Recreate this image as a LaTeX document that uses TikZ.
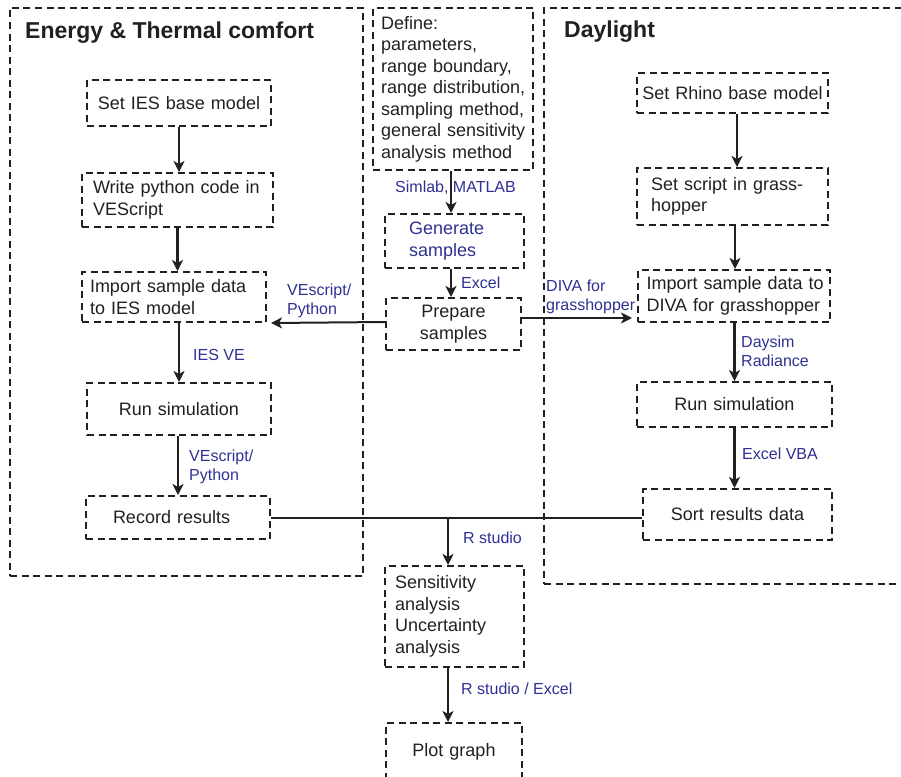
\documentclass[tikz,border=0pt]{standalone}
\usepackage{fontspec}
\setmainfont{Liberation Sans}
\usetikzlibrary{arrows.meta}
\definecolor{txt}{RGB}{35,31,32}
\definecolor{lbl}{RGB}{46,49,146}
\tikzset{
  bx/.style={draw=txt, line width=2pt, dash pattern=on 7pt off 4.5pt, text=txt,
    font=\fontsize{18}{21.5}\selectfont, inner ysep=0pt},
  grp/.style={draw=txt, line width=2pt, dash pattern=on 7pt off 4.5pt, inner sep=0pt},
  arr/.style={draw=txt, line width=2.4pt, -{Stealth[length=11pt,width=11pt,inset=3pt]}},
  harr/.style={draw=txt, line width=2pt, -{Stealth[length=11pt,width=11pt,inset=3pt]}},
  hline/.style={draw=txt, line width=2pt},
  lab/.style={text=lbl, font=\fontsize{16}{18.5}\selectfont, anchor=west, align=left, inner sep=0pt},
  ttl/.style={text=txt, font=\bfseries\fontsize{23}{27}\selectfont, anchor=west, inner sep=0pt}
}
\begin{document}
\begin{tikzpicture}[x=1pt,y=-1pt]
\useasboundingbox (0,0) rectangle (901,776);
\clip (0,0) rectangle (901,776);

% containers
\node[grp, minimum width=353pt, minimum height=568pt] (egrp) at (186.5,292) {};
\node[grp, minimum width=368pt, minimum height=576pt] (dgrp) at (728,296) {};
\node[ttl] (etitle) at (25,33) {Energy \& Thermal comfort};
\node[ttl] (dtitle) at (564,32) {Daylight};

% left column
\node[bx, text width=176pt, inner xsep=4pt, align=center, minimum height=46pt] (ies) at (179,103) {Set IES base model};
\node[bx, text width=169pt, inner xsep=11pt, align=left, minimum height=54pt] (py) at (177.5,200) {\mbox{Write python code in}\\VEScript};
\node[bx, text width=168pt, inner xsep=8pt, align=left, minimum height=50pt] (imp) at (174,297) {\mbox{Import sample data}\\\mbox{to IES model}};
\node[bx, text width=176pt, inner xsep=4pt, align=center, minimum height=52pt] (run1) at (179,409) {Run simulation};
\node[bx, text width=130pt, inner xsep=27pt, align=left, minimum height=43pt] (rec) at (178,517.5) {\mbox{Record results}};

% middle column
\node[bx, text width=144pt, inner xsep=8pt, align=left, minimum height=162pt] (def) at (453,89) {Define:\\\mbox{parameters,}\\\mbox{range boundary,}\\\mbox{range distribution,}\\\mbox{sampling method,}\\\mbox{general sensitivity}\\\mbox{analysis method}};
\node[bx, text width=91pt, inner xsep=24pt, align=left, minimum height=54pt, text=lbl] (gen) at (454.5,241) {Generate\\samples};
\node[bx, text width=127pt, inner xsep=4pt, align=center, minimum height=52pt] (prep) at (453.5,324) {Prepare\\samples};
\node[bx, text width=119pt, inner xsep=10pt, align=left, minimum height=101pt] (sens) at (454.5,616.5) {Sensitivity\\analysis\\Uncertainty\\analysis};
\node[bx, text width=128pt, inner xsep=4pt, align=center, minimum height=58pt] (plot) at (454,752) {Plot graph};

% right column
\node[bx, text width=183pt, inner xsep=4pt, align=center, minimum height=40pt] (rhino) at (732.5,93) {Set Rhino base model};
\node[bx, text width=163pt, inner xsep=14pt, align=left, minimum height=57pt] (gh) at (732.5,196.5) {\mbox{Set script in grass-}\\hopper};
\node[bx, text width=175pt, inner xsep=8.5pt, align=left, minimum height=52pt] (diva) at (734,296) {\mbox{Import sample data to}\\\mbox{DIVA for grasshopper}};
\node[bx, text width=187pt, inner xsep=4pt, align=center, minimum height=45pt] (run2) at (734.5,404.5) {Run simulation};
\node[bx, text width=181pt, inner xsep=4pt, align=center, minimum height=51pt] (sort) at (737.5,514.5) {Sort results data};

% left arrows
\draw[arr] (ies.south) -- (ies.south |- py.north);
\draw[arr] (py.south) -- (py.south |- imp.north);
\draw[arr] (run1.north |- imp.south) -- (run1.north);
\draw[arr] (rec.north |- run1.south) -- (rec.north);

% middle arrows
\draw[arr] ([xshift=-2pt]def.south) -- ([xshift=-2pt]def.south |- gen.north);
\draw[arr] ([xshift=-3.5pt]gen.south) -- ([xshift=-3.5pt]gen.south |- prep.north);
\draw[harr] ([yshift=2pt]prep.west) -- ([xshift=4pt]imp.south east);
\draw[harr, shorten >=5pt] ([yshift=6pt]prep.east) -- ([yshift=6pt]prep.east -| diva.west);

% right arrows
\draw[arr] ([xshift=4.5pt]rhino.south) -- ([xshift=4.5pt]rhino.south |- gh.north);
\draw[arr] ([xshift=2.5pt]gh.south) -- ([xshift=2.5pt]gh.south |- diva.north);
\draw[arr] (run2.north |- diva.south) -- (run2.north);
\draw[arr] (run2.south) -- (run2.south |- sort.north);

% results merge
\draw[hline] (rec.east) -- (rec.east -| sort.west);
\coordinate (jn) at (448,517.5);
\draw[arr] (jn) -- (jn |- sens.north);
\draw[arr] (jn |- sens.south) -- (jn |- plot.north);

% labels
\node[lab] (l1) at (395,188) {Simlab, MATLAB};
\node[lab] (l2) at (461,283) {Excel};
\node[lab] (l3) at (287,301) {VEscript/\\Python};
\node[lab] (l4) at (193,355) {IES VE};
\node[lab] (l5) at (189,467) {VEscript/\\Python};
\node[lab] (l6) at (546,297) {DIVA for\\grasshopper};
\node[lab] (l7) at (741,351.5) {Daysim\\Radiance};
\node[lab] (l8) at (742,454) {Excel VBA};
\node[lab] (l9) at (463,538) {R studio};
\node[lab] (l10) at (461,689) {R studio / Excel};
\end{tikzpicture}
\end{document}
